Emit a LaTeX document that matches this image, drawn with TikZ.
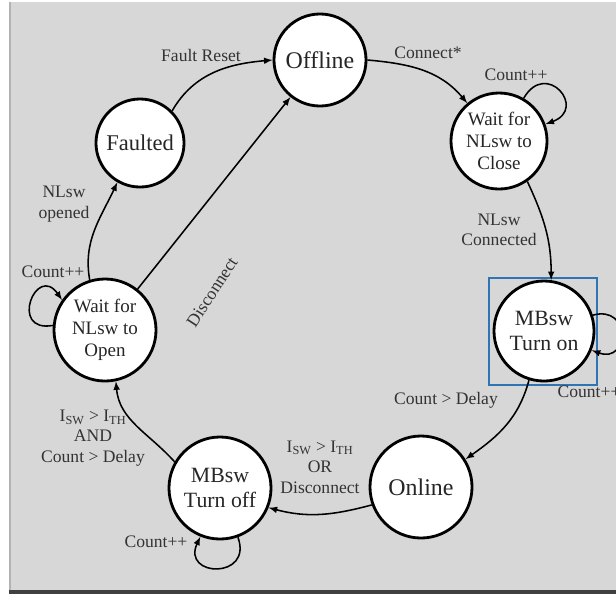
\documentclass[tikz,border=0pt]{standalone}
\usepackage{fontspec}
\setmainfont{Liberation Serif}
\usepackage{tikz}

\definecolor{panelgray}{RGB}{215,215,215}
\definecolor{selblue}{RGB}{46,117,182}
\tikzset{
	state/.style={circle, draw, fill=white, line width=2pt, inner sep=0pt, align=center, text=black!85},
	trans/.style={->, >=latex, line width=1.1pt},
	lbl/.style={align=center, text=black!80, font=\fontsize{12.5}{14.5}\selectfont}
}
\newcommand{\Isw}{I\textsubscript{SW}}
\newcommand{\Ith}{I\textsubscript{TH}}

\begin{document}
\begin{tikzpicture}[x=0.025cm,y=0.025cm]
\useasboundingbox (0,0) rectangle (616,-594);
% background panel
\fill[white] (0,0) rectangle (616,-594);
\fill[panelgray] (9,-2) rectangle (616,-590);
\draw[black!30, line width=0.8pt] (10,-2) -- (10,-590);
\fill[black!75] (9,-590) rectangle (616,-594);

% states
\node[state, minimum size=2.3cm, font=\fontsize{17}{19}\selectfont] (offline) at (320,-60) {Offline};
\node[state, minimum size=2.2cm, font=\fontsize{16}{18}\selectfont] (faulted) at (140,-143) {Faulted};
\node[state, minimum size=2.4cm, font=\fontsize{13.5}{15.5}\selectfont] (close) at (499,-141) {Wait for\\NLsw to\\Close};
\node[state, minimum size=2.55cm, font=\fontsize{13.5}{15.5}\selectfont] (open) at (105,-330) {Wait for\\NLsw to\\Open};
\node[state, minimum size=2.5cm, font=\fontsize{15.5}{17.5}\selectfont] (turnon) at (544,-331) {MBsw\\Turn on};
\node[state, minimum size=2.55cm, font=\fontsize{17}{19}\selectfont] (online) at (421,-487) {Online};
\node[state, minimum size=2.55cm, font=\fontsize{15.5}{17.5}\selectfont] (turnoff) at (220,-488) {MBsw\\Turn off};

% selection box
\draw[selblue, line width=1.4pt] (489,-278) rectangle (597,-385);

% transitions
\draw[trans] (faulted.45) to[out=60, in=185] (offline.west);
\draw[trans] (offline.east) to[out=-5, in=130] (close.130);
\draw[trans] (close.60) .. controls +(60:45) and +(20:45) .. (close.20);
\draw[trans] (close.-55) to[out=-65, in=90] (turnon.82);
\draw[trans] (turnon.18) .. controls +(15:40) and +(-20:40) .. (turnon.-22);
\draw[trans] (turnon.-107) to[out=-105, in=35] (online.32);
\draw[trans] (online.200) to[out=195, in=-15] (turnoff.-22);
\draw[trans] (turnoff.-70) .. controls +(-70:45) and +(-115:45) .. (turnoff.-112);
\draw[trans] (turnoff.150) to[out=132, in=-85] (open.-78);
\draw[trans] (open.175) .. controls +(190:45) and +(125:45) .. (open.145);
\draw[trans] (open.107) to[out=100, in=-115] (faulted.-120);
\draw[trans] (open) -- (offline);

% labels
\node[lbl] (lfault) at (201,-55) {Fault Reset};
\node[lbl] (lconn) at (428,-53) {Connect*};
\node[lbl] (lcnt1) at (516,-75) {Count++};
\node[lbl] (lnlc) at (499,-230) {NLsw\\Connected};
\node[lbl] (lcnt2) at (589,-392) {Count++};
\node[lbl] (ldelay) at (446,-400) {Count > Delay};
\node[lbl] (lor) at (320,-467) {\Isw{} > \Ith\\OR\\Disconnect};
\node[lbl] (lcnt3) at (156,-542) {Count++};
\node[lbl] (land) at (93,-438) {\Isw{} > \Ith\\AND\\Count > Delay};
\node[lbl] (lcnt4) at (53,-272) {Count++};
\node[lbl] (lnlo) at (64,-204) {NLsw\\opened};
\node[lbl, rotate=57] (ldisc) at (212,-292) {Disconnect};
\end{tikzpicture}
\end{document}
